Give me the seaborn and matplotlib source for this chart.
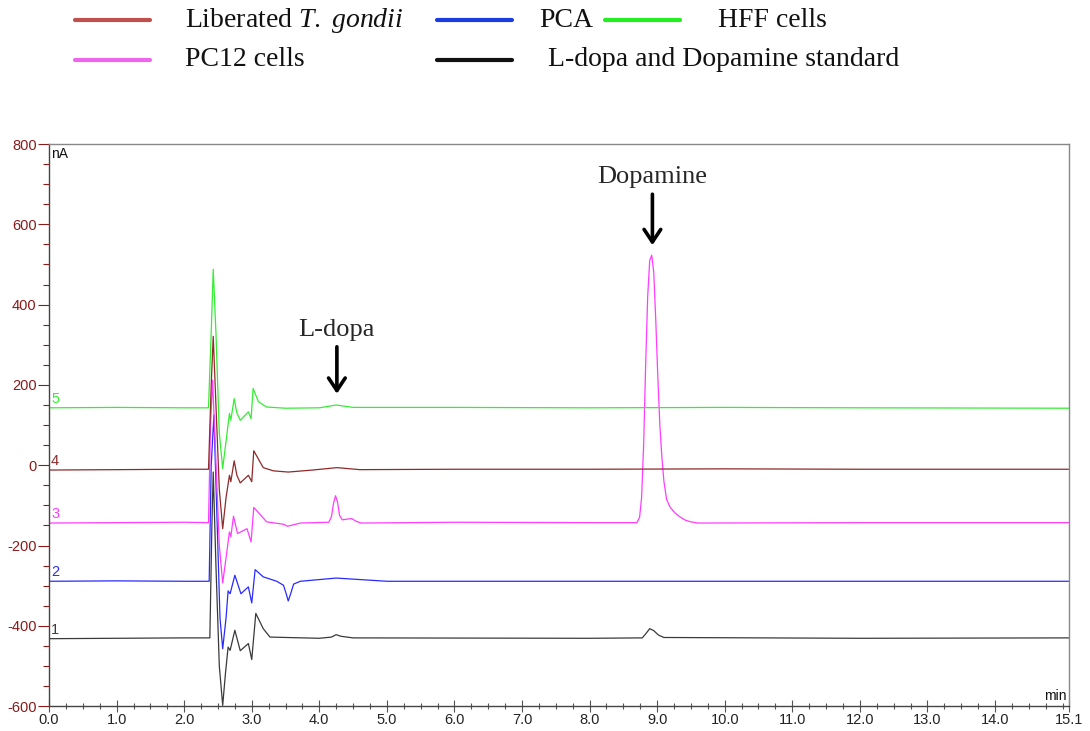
import numpy as np
import pandas as pd
import seaborn as sns
import matplotlib.pyplot as plt
from matplotlib.lines import Line2D
from matplotlib.ticker import MultipleLocator, FixedLocator

# ---- chromatogram traces (time in min, signal in nA) ----
std_t = [0.0, 1.0, 2.0, 2.38, 2.41, 2.43, 2.47, 2.52, 2.57, 2.61, 2.65, 2.68, 2.75, 2.83,
         2.95, 3.00, 3.06, 3.17, 3.27, 4.0, 4.18, 4.25, 4.32, 4.5, 8.0, 8.78, 8.84, 8.89,
         8.95, 9.02, 9.10, 12.0, 15.1]
std_v = [-432, -431, -430, -430, -150, -17, -250, -500, -598, -520, -453, -461, -411, -462,
         -444, -484, -369, -407, -428, -431, -428, -422, -426, -430, -431, -430, -418, -407,
         -412, -423, -429, -431, -430]

pca_t = [0.0, 1.0, 2.0, 2.37, 2.40, 2.44, 2.48, 2.53, 2.57, 2.62, 2.65, 2.68, 2.75, 2.84,
         2.95, 3.00, 3.05, 3.17, 3.37, 3.47, 3.51, 3.54, 3.58, 3.62, 3.72, 4.25, 5.0, 8.0,
         12.0, 15.1]
pca_v = [-289, -288, -289, -289, 0, 125, -100, -380, -457, -380, -313, -320, -274, -320,
         -303, -343, -260, -278, -289, -299, -320, -338, -318, -296, -289, -281, -289, -289,
         -289, -289]

pc12_t = [0.0, 1.0, 2.0, 2.36, 2.39, 2.42, 2.46, 2.52, 2.57, 2.62, 2.67, 2.69, 2.73, 2.79,
          2.93, 2.99, 3.03, 3.22, 3.47, 3.53, 3.72, 4.14, 4.18, 4.21, 4.24, 4.27, 4.30, 4.34,
          4.42, 4.48, 4.55, 4.62, 6.0, 8.0, 8.70, 8.74, 8.77, 8.80, 8.83, 8.86, 8.89, 8.92,
          8.95, 8.98, 9.01, 9.04, 9.07, 9.10, 9.14, 9.19, 9.26, 9.34, 9.42, 9.50, 9.60,
          12.0, 15.1]
pc12_v = [-144, -143, -142, -143, 100, 212, 50, -200, -293, -230, -166, -178, -127, -170,
          -158, -191, -105, -141, -147, -152, -144, -142, -128, -95, -76, -92, -125, -136,
          -134, -133, -140, -144, -142, -143, -143, -130, -80, 50, 250, 420, 510, 523,
          480, 360, 220, 100, 20, -40, -85, -104, -118, -129, -137, -141, -144,
          -143, -143]

gondii_t = [0.0, 1.0, 2.0, 2.36, 2.40, 2.43, 2.47, 2.52, 2.57, 2.62, 2.67, 2.69, 2.74, 2.78,
            2.83, 2.95, 3.00, 3.03, 3.17, 3.32, 3.54, 3.9, 4.26, 4.6, 6.0, 8.0, 10.0, 12.0, 15.1]
gondii_v = [-12, -11, -10, -10, 200, 321, 150, -60, -158, -80, -25, -41, 11, -25,
            -44, -25, -41, 36, -6, -14, -17, -12, -6, -11, -10, -10, -9, -10, -10]

hff_t = [0.0, 1.0, 2.0, 2.36, 2.40, 2.43, 2.47, 2.52, 2.57, 2.62, 2.67, 2.69, 2.74, 2.78,
         2.83, 2.95, 2.99, 3.02, 3.10, 3.22, 3.5, 4.0, 4.25, 4.5, 6.0, 8.0, 10.0, 12.0, 15.1]
hff_v = [143, 144, 143, 143, 330, 488, 330, 80, -8, 60, 129, 112, 166, 130,
         112, 133, 116, 191, 158, 145, 142, 143, 150, 144, 144, 143, 144, 143, 142]

trace_ids = ["1", "2", "3", "4", "5"]
trace_names = ["L-dopa and Dopamine standard", "PCA", "PC12 cells",
               "Liberated T. gondii", "HFF cells"]
trace_colors = ["#3a3a3a", "#2a2aff", "#ff3cff", "#8e2a2a", "#33ee33"]
legend_colors = ["#111111", "#1a3ce0", "#ee66ee", "#c0504d", "#22ee22"]

frames = []
for tid, name, t, v in zip(trace_ids, trace_names,
                           [std_t, pca_t, pc12_t, gondii_t, hff_t],
                           [std_v, pca_v, pc12_v, gondii_v, hff_v]):
    frames.append(pd.DataFrame({"time": t, "signal": v, "trace": name, "id": tid}))
df = pd.concat(frames, ignore_index=True)

sns.set_theme(style="white")
plt.rcParams["font.family"] = ["Liberation Sans", "DejaVu Sans"]
plt.rcParams["axes.unicode_minus"] = False
plt.rcParams["mathtext.fontset"] = "custom"
plt.rcParams["mathtext.rm"] = "Liberation Serif"
plt.rcParams["mathtext.it"] = "Liberation Serif:italic"

fig = plt.figure(figsize=(10.9, 7.31), dpi=100)
ax = fig.add_axes([0.045, 0.034, 0.936, 0.769])

sns.lineplot(data=df, x="time", y="signal", hue="trace", hue_order=trace_names,
             palette=trace_colors, estimator=None, sort=False, linewidth=0.9,
             legend=False, ax=ax)

ax.set_xlim(0, 15.1)
ax.set_ylim(-600, 800)
ax.set_xlabel("")
ax.set_ylabel("")

# ticks
xt = list(range(0, 15)) + [15.1]
ax.xaxis.set_major_locator(FixedLocator(xt))
ax.set_xticklabels([f"{x:.1f}" for x in xt])
ax.xaxis.set_minor_locator(FixedLocator(np.arange(0, 15.01, 0.25)))
ax.yaxis.set_major_locator(MultipleLocator(200))
ax.yaxis.set_minor_locator(MultipleLocator(50))
ax.tick_params(axis="x", which="major", direction="inout", length=8, width=0.8,
               colors="#555555", labelcolor="#222222", labelsize=10.5, pad=1)
ax.tick_params(axis="x", which="minor", direction="inout", length=5, width=0.8,
               colors="#555555")
ax.tick_params(axis="y", which="major", direction="out", length=8, width=0.8,
               colors="#8b1a1a", labelcolor="#8b1a1a", labelsize=10.5, pad=1)
ax.tick_params(axis="y", which="minor", direction="out", length=4, width=0.8,
               colors="#8b1a1a")
ax.tick_params(bottom=True, left=True, which="both")

for side in ["top", "right"]:
    ax.spines[side].set_color("#888888")
    ax.spines[side].set_linewidth(1.0)
for side in ["left", "bottom"]:
    ax.spines[side].set_color("#444444")
    ax.spines[side].set_linewidth(1.0)

# unit labels inside the frame
ax.text(0.002, 0.995, "nA", transform=ax.transAxes, ha="left", va="top",
        fontsize=10, color="#111111")
ax.text(0.997, 0.005, "min", transform=ax.transAxes, ha="right", va="bottom",
        fontsize=10, color="#111111")

# trace numbers at the left end of each baseline
for tid, v, c in zip(trace_ids, [std_v, pca_v, pc12_v, gondii_v, hff_v], trace_colors):
    ax.text(0.03, v[0] + 5, tid, ha="left", va="bottom", fontsize=10.5, color=c)

# peak annotations
serif = ["Liberation Serif", "DejaVu Serif"]
arrow = dict(arrowstyle="->,head_length=0.45,head_width=0.3", color="black", lw=2.6,
             mutation_scale=20, shrinkA=2, shrinkB=0)
ax.annotate("L-dopa", xy=(4.26, 178), xytext=(4.26, 310),
            ha="center", va="bottom", fontsize=19, family=serif, arrowprops=arrow)
ax.annotate("Dopamine", xy=(8.93, 548), xytext=(8.93, 690),
            ha="center", va="bottom", fontsize=19, family=serif, arrowprops=arrow)

# legend drawn above the plot
legend_rows = [
    (0.069, 0.170, 0.972, legend_colors[3], "Liberated $\\it{T.\\ gondii}$"),
    (0.401, 0.495, 0.972, legend_colors[1], "PCA"),
    (0.555, 0.659, 0.972, legend_colors[4], "HFF cells"),
    (0.069, 0.170, 0.918, legend_colors[2], "PC12 cells"),
    (0.401, 0.503, 0.918, legend_colors[0], "L-dopa and Dopamine standard"),
]
for x0, xt0, y0, c, label in legend_rows:
    fig.add_artist(Line2D([x0, x0 + 0.069], [y0, y0], color=c, lw=3,
                          transform=fig.transFigure))
    fig.text(xt0, y0, label, ha="left", va="center", fontsize=20, family=serif,
             color="#111111")

fig.savefig("out.png", dpi=100)
